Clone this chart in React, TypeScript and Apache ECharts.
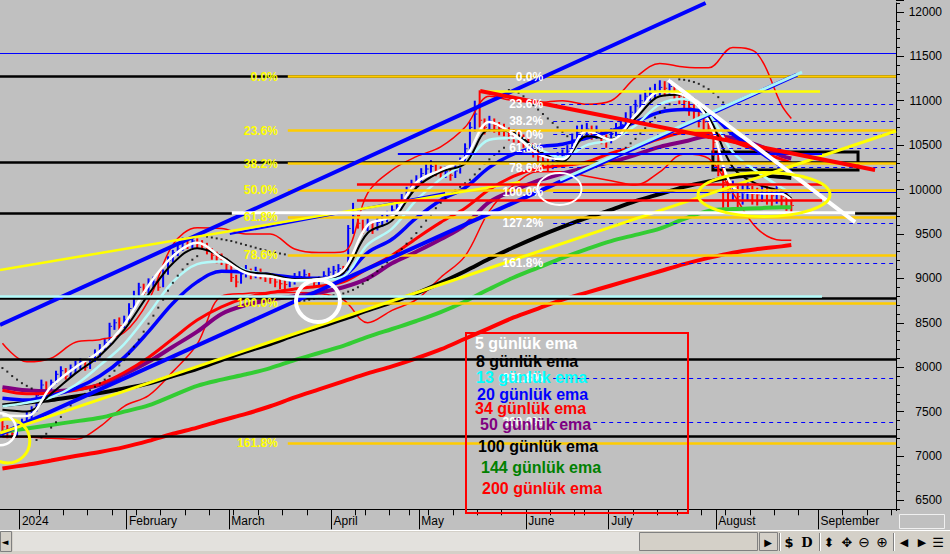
import React, { useEffect, useRef } from 'react';
import * as echarts from 'echarts';

// ---------- axis slots & calendar ----------
const N = 184;
const categories = Array.from({ length: N }, (_, i) => String(i));
const monthTickIdx = [4, 26, 47, 68, 86, 108, 125, 147, 168];
const monthNames = ['2024', 'February', 'March', 'April', 'May', 'June', 'July', 'August', 'September'];
const weekTickIdx = [8, 13, 18, 23, 28, 33, 38, 43, 48, 53, 58, 63, 73, 75, 80, 84, 88, 93, 98, 103, 113, 118, 120, 130, 135, 139, 144, 149, 154, 159, 164, 173, 178, 183];

// ---------- daily bars ----------
const barClose = [7330,7280,7250,7300,7380,7450,7520,7680,7800,7740, 7830,7920,7960,7900,7990,8010,8060,8000,8090,8150, 8210,8280,8460,8500,8470,8530,8660,8800,8900,8840, 8950,8960,8900,9060,9200,9290,9330,9410,9370,9420, 9390,9370,9320,9260,9240,9210,9160,9010,8960,9050, 9090,9040,9080,9060,9020,9000,8960,8940,8930,8970, 9000,9020,9040,8990,8960,8980,9030,9070,9090,9110, 9080,9560,9700,9620,9570,9610,9560,9630,9660,9700, 9770,9810,9900,9970,10060,10100,10180,10230,10260,10210, 10190,10200,10160,10210,10310,10460,10700,10850,10780,10700, 10770,10720,10690,10680,10630,10610,10600,10550,10510,10450, 10370,10320,10290,10310,10350,10380,10430,10560,10640,10660, 10680,10640,10650,10590,10550,10630,10690,10730,10800,10870, 10940,11000,11050,11080,11110,11150,11140,11160,11100,11050, 10990,10920,10880,10800,10760,10690,10530,10320,10080,9960, 10010,9920,9960,10010,9950,9940,9990,9960,9930,9970, 9920,9880,9820];
const barLow = [7220,7200,7180,7220,7290,7360,7420,7500,7690,7700, 7720,7810,7880,7860,7880,7930,7980,7960,7980,8060, 8110,8190,8260,8420,8410,8440,8500,8640,8760,8800, 8830,8880,8860,8900,9040,9180,9250,9310,9330,9340, 9340,9320,9270,9210,9170,9150,9090,8960,8900,8940, 9010,8990,9000,8990,8960,8940,8900,8880,8870,8900, 8930,8960,8980,8940,8900,8910,8950,8990,9020,9030, 9020,9080,9500,9560,9500,9530,9500,9540,9580,9630, 9680,9720,9790,9880,9960,10020,10080,10160,10180,10150, 10120,10130,10100,10130,10180,10280,10440,10650,10700,10620, 10650,10640,10610,10600,10550,10530,10520,10470,10430,10360, 10280,10240,10200,10230,10260,10300,10340,10420,10540,10580, 10600,10560,10570,10510,10470,10520,10600,10650,10710,10780, 10850,10920,10970,11000,11030,11060,11050,11070,11020,10960, 10900,10830,10790,10700,10660,10570,10380,10150,9780,9800, 9870,9800,9830,9880,9830,9820,9860,9830,9800,9840, 9800,9760,9740];
const barHigh = [7400,7350,7320,7340,7420,7500,7560,7720,7860,7840, 7860,7960,8010,7990,8030,8070,8100,8090,8120,8200, 8260,8330,8500,8540,8560,8580,8720,8860,8950,8940, 9000,9020,8990,9100,9250,9320,9380,9460,9450,9470, 9450,9430,9400,9340,9300,9280,9230,9180,9040,9100, 9150,9110,9130,9110,9070,9060,9030,8990,8980,9010, 9060,9080,9100,9060,9010,9020,9080,9120,9140,9160, 9140,9600,9850,9720,9660,9680,9640,9690,9720,9760, 9820,9860,9950,10030,10110,10160,10240,10300,10330,10290, 10260,10260,10230,10270,10360,10520,10760,11000,11117,10800, 10830,10800,10760,10740,10700,10680,10660,10620,10580,10520, 10450,10390,10350,10370,10420,10450,10500,10630,10720,10730, 10750,10720,10720,10660,10620,10690,10750,10800,10870,10940, 11010,11070,11120,11150,11190,11230,11220,11240,11190,11130, 11080,11000,10960,10880,10840,10780,10650,10480,10250,10120, 10100,10060,10050,10090,10040,10020,10060,10040,10010,10050, 10010,9960,9900];

// ---------- indicator lines (read at these bar indexes) ----------
const sampleIdx = [0,5,10,15,20,25,30,35,40,45,50,55,60,65,70,75,80,85,90,95,100,105,110,115,120,125,130,135,140,145,150,155,160,162];
const ema5 = [7460,7450,7780,8000,8180,8480,8920,9250,9400,9230,9060,9020,8980,8990,9090,9600,9700,10080,10220,10360,10760,10620,10400,10340,10660,10560,10840,11100,11060,10780,10030,9960,9950,9880];
const ema8 = [7520,7500,7700,7930,8130,8420,8820,9170,9340,9250,9080,9050,8990,9000,9060,9510,9650,10020,10200,10290,10670,10640,10440,10320,10600,10570,10800,11050,11070,10820,10250,10060,9980,9900];
const ema13 = [7560,7600,7660,7800,8020,8260,8600,8960,9160,9190,9090,9040,8970,8980,9020,9380,9560,9880,10120,10300,10560,10580,10460,10360,10500,10560,10720,10960,11020,10850,10420,10200,10020,9960];
const ema20 = [7650,7630,7680,7760,7900,8110,8400,8720,8960,9080,9070,9040,9010,9000,9030,9290,9440,9680,9880,10020,10250,10400,10480,10510,10580,10660,10760,10870,10900,10860,10620,10440,10260,10200];
const ema34 = [7740,7700,7710,7740,7810,7940,8110,8320,8530,8680,8780,8840,8880,8910,8960,9110,9260,9450,9630,9790,10000,10150,10240,10270,10310,10410,10480,10570,10640,10640,10540,10440,10340,10300];
const ema50 = [7775,7740,7730,7750,7800,7920,8060,8230,8400,8600,8700,8760,8800,8840,8900,9000,9170,9300,9440,9600,9860,9990,10100,10180,10250,10310,10390,10480,10540,10600,10580,10500,10380,10350];
const ema100 = [7570,7600,7630,7670,7710,7760,7815,7900,7980,8080,8175,8260,8360,8450,8540,8640,8730,8830,8950,9080,9220,9350,9470,9580,9680,9770,9870,9950,10030,10090,10140,10160,10140,10130];
const ema144 = [7270,7310,7350,7390,7430,7500,7570,7680,7790,7860,7920,7990,8080,8160,8240,8340,8430,8520,8620,8740,8880,9010,9120,9230,9330,9420,9490,9560,9670,9760,9780,9790,9800,9800];
const ema200 = [6860,6900,6950,7000,7045,7100,7170,7250,7320,7400,7475,7560,7660,7750,7840,7930,8010,8100,8200,8320,8440,8560,8660,8760,8840,8920,9000,9080,9160,9230,9290,9330,9360,9375];
const bandUpper = [8270,8060,8100,8280,8310,8390,8750,9380,9570,9560,9500,9500,9330,9290,9300,9960,10220,10370,10480,10700,11050,11000,10980,11000,10960,11000,11260,11420,11380,11370,11600,11530,10950,10800];
const bandLower = [7215,7215,7200,7190,7330,7560,7680,7950,8260,8800,8830,8840,8840,8830,8760,8500,8640,8760,9010,9250,9760,10050,10200,10200,10150,10100,10050,10200,10400,10350,9960,9560,9430,9430];

// parabolic SAR dots: [first bar index, values...]
const sarSegments: [number, number[]][] = [
  [0, [7990,7950,7900,7860,7820,7790,7760]],
  [7, [7180,7210,7250,7320,7380,7440,7510,7570,7620,7660,7700,7740,7780,7820,7860,7900,7960,8020,8080,8150,8230,8310,8400,8490,8580,8670,8760,8860,8950,9030,9100,9160,9210,9250]],
  [42, [9470,9460,9450,9440,9430,9420,9405,9390,9375,9360,9345,9330,9315,9300,9290,9280,9270]],
  [61, [8740,8750,8760,8770,8780,8790,8800,8810,8820,8830,8850,8870,8900,8940,8980,9030,9080,9130,9180,9230,9280,9330,9390,9450,9510,9580,9650,9720,9790,9850,9900,9950,9990,10030,10070,10110,10170,10230,10290,10340,10390,10430,10470]],
  [104, [11120,11110,11090,11050,11000,10950,10900,10850,10800,10750,10700,10650,10600]],
  [118, [10200,10220,10240,10260,10280,10300,10330,10360,10390,10430,10470,10520,10570,10630,10690,10750,10810,10870,10920,10960]],
  [139, [11240,11235,11225,11210,11190,11160,11130,11090,11040,10980]],
];

// ---------- drawn levels & trendlines (bar index, price) ----------
const blackLevels = [11270, 10304, 9736, 8773, 8086, 7219];
const blueTopLevel = 11537;
const fib1Levels = [11270, 10664, 10293, 9993, 9692, 9265, 8720, 7147];
const fib1Labels = ['0.0%', '23.6%', '38.2%', '50.0%', '61.8%', '78.6%', '100.0%', '161.8%'];
const fib2Levels = [11270, 10959, 10770, 10618, 10465, 10247, 9970, 9618, 9170, 7875, 7380];
const fib2Labels = ['0.0%', '23.6%', '38.2%', '50.0%', '61.8%', '78.6%', '100.0%', '127.2%', '161.8%', '261.8%', '300.0%'];
const fib1Start = 58.6;
const fib2Start = 113.1;
const cyanLevel = [8795, -0.5, 168.3];
const redLevels = [10056, 9882];
const redLevelSpan = [72.8, 168.3];
const blueMidLevel = [10400, 81.2, 168.3];
const yellowTopLevel = [11109, 98.1, 167.9];
const whiteLevel = [9736, 47.1, 175.1];
const blueChannelTop = [[-0.5, 8475], [144.4, 12100]];
const blueChannelBottom = [[-0.5, 7242], [163.2, 11293]];
const cyanTrend = [[114.5, 10107], [164.2, 11323]];
const blueShortTrend = [[46.7, 9499], [90.9, 9961]];
const yellowTrendA = [[-0.5, 9094], [106.3, 10085]];
const yellowTrendB = [[-0.5, 7259], [183.5, 10659]];
const redTrend = [[98.1, 11109], [179.2, 10220]];
const whiteTrend = [[136.7, 11233], [175.1, 9634]];
const boxArea = [[145.9, 10422], [175.7, 10220]];

const legendNames = ['5 günlük ema', '8 günlük ema', '13 günlük ema', '20 günlük ema', '34 günlük ema', '50 günlük ema', '100 günlük ema', '144 günlük ema', '200 günlük ema'];

// ---------- styling ----------
const FONT = 'Liberation Sans, Arial, sans-serif';
const legendColors = ['#ffffff', '#000000', '#00ffff', '#0000ff', '#ff0000', '#800080', '#000000', '#008000', '#ff0000'];
const legendPos = [[475, 343], [476, 361], [476, 377], [477, 394], [475, 408], [480, 424], [478, 446], [481, 467], [482, 488]];

const emaDefs = [
  { name: '200 günlük ema', data: ema200, color: '#ff0000', width: 4 },
  { name: '144 günlük ema', data: ema144, color: '#33cc33', width: 4 },
  { name: '100 günlük ema', data: ema100, color: '#000000', width: 4 },
  { name: '50 günlük ema', data: ema50, color: '#800080', width: 4 },
  { name: '34 günlük ema', data: ema34, color: '#ff0000', width: 3 },
  { name: '20 günlük ema', data: ema20, color: '#0000ff', width: 3.5 },
  { name: '13 günlük ema', data: ema13, color: '#b4fafa', width: 2.5 },
  { name: '8 günlük ema', data: ema8, color: '#000000', width: 2 },
  { name: '5 günlük ema', data: ema5, color: '#ffffff', width: 2.5 },
];

function seg(a: number[][], color: string, width: number, type: any = 'solid') {
  return [
    { coord: a[0], lineStyle: { color, width, type }, label: { show: false } },
    { coord: a[1] },
  ];
}
function hseg(v: number, from: number, to: number, color: string, width: number, type: any = 'solid', text?: string, textColor?: string) {
  return [
    {
      coord: [from, v],
      lineStyle: { color, width, type },
      label: text
        ? { show: true, position: 'start', distance: 10, formatter: text, color: textColor, fontWeight: 'bold', fontSize: 12, fontFamily: FONT }
        : { show: false },
    },
    { coord: [to, v] },
  ];
}

// pixel scale of the price axis: 12100 at y=3, 6400 at y=509.3
const PX_PER_UNIT = 506.3 / 5700;
const LABEL_AXIS_MAX = 12100 + 3 / PX_PER_UNIT;

function buildOption() {
  const weekSet = new Set(weekTickIdx);
  const monthSet = new Set(monthTickIdx);
  const monthMap = new Map(monthTickIdx.map((k, j) => [k, monthNames[j]]));

  const barData = barClose.map((c, i) => [i, barLow[i], barHigh[i], i > 0 && c >= barClose[i - 1] ? 1 : 0, c]);

  const sarData: number[][] = [];
  sarSegments.forEach(([start, vals]) => vals.forEach((v, k) => sarData.push([start + k, v])));

  const levelLines: any[] = [];
  blackLevels.forEach((v) => levelLines.push(hseg(v, -0.5, N - 0.5, '#000000', 2.5)));
  levelLines.push(hseg(blueTopLevel, -0.5, N - 0.5, '#0000ff', 1));
  fib2Levels.forEach((v, k) => {
    const solid = k === 0 || k === 6;
    levelLines.push(hseg(v, fib2Start, N - 0.5, '#0000ff', solid ? 1.2 : 1, solid ? 'solid' : [4, 4], fib2Labels[k], '#ffffff'));
  });
  fib1Levels.forEach((v, k) => levelLines.push(hseg(v, fib1Start, N - 0.5, '#ffcc00', 2.5, 'solid', fib1Labels[k], '#ffff00')));

  const trendLines: any[] = [
    seg(blueChannelTop, '#0000ff', 4),
    seg(blueChannelBottom, '#0000ff', 4),
    seg(cyanTrend, '#a8f4f4', 3),
    seg(blueShortTrend, '#0000ff', 2),
    seg(yellowTrendA, '#ffff00', 2.5),
    seg(yellowTrendB, '#ffff00', 3),
    hseg(cyanLevel[0], cyanLevel[1], cyanLevel[2], '#b4fafa', 2.5),
    hseg(redLevels[0], redLevelSpan[0], redLevelSpan[1], '#ff0000', 2.5),
    hseg(redLevels[1], redLevelSpan[0], redLevelSpan[1], '#ff0000', 2.5),
    hseg(blueMidLevel[0], blueMidLevel[1], blueMidLevel[2], '#0000ff', 2),
    hseg(yellowTopLevel[0], yellowTopLevel[1], yellowTopLevel[2], '#ffff00', 2.5),
    seg(redTrend, '#ff0000', 4),
    hseg(whiteLevel[0], whiteLevel[1], whiteLevel[2], '#ffffff', 3.5),
    seg(whiteTrend, '#ffffff', 4),
  ];

  const series: any[] = [
    {
      type: 'line', name: 'levels', xAxisIndex: 2, yAxisIndex: 0, data: [[-0.5, 6400]], symbol: 'none',
      lineStyle: { opacity: 0 }, silent: true, z: 1,
      markLine: { silent: true, symbol: ['none', 'none'], animation: false, label: { show: false }, emphasis: { disabled: true }, data: levelLines },
    },
    {
      type: 'custom', name: 'bars', xAxisIndex: 2, yAxisIndex: 0, data: barData, z: 2, silent: true,
      encode: { x: 0, y: [1, 2] },
      renderItem: (params: any, api: any) => {
        const i = api.value(0);
        const top = api.coord([i, api.value(2)]);
        const bot = api.coord([i, api.value(1)]);
        const cl = api.coord([i, api.value(4)]);
        const fill = api.value(3) ? '#0000ff' : '#ff0000';
        return {
          type: 'group',
          children: [
            { type: 'rect', shape: { x: top[0] - 1, y: top[1], width: 2, height: Math.max(1, bot[1] - top[1]) }, style: { fill } },
            { type: 'rect', shape: { x: top[0] + 1, y: cl[1] - 0.5, width: 1.5, height: 1 }, style: { fill } },
          ],
        };
      },
    },
    ...[
      { name: 'band upper', data: bandUpper },
      { name: 'band lower', data: bandLower },
    ].map((b) => ({
      type: 'line', name: b.name, xAxisIndex: 2, yAxisIndex: 0, symbol: 'none', smooth: 0.35, silent: true, z: 3,
      data: sampleIdx.map((x, k) => [x, b.data[k]]), lineStyle: { color: '#ff0000', width: 1.5 },
    })),
    ...emaDefs.map((d) => ({
      type: 'line', name: d.name, xAxisIndex: 2, yAxisIndex: 0, symbol: 'none', smooth: 0.35, silent: true, z: 3,
      data: sampleIdx.map((x, k) => [x, d.data[k]]), lineStyle: { color: d.color, width: d.width },
    })),
    {
      type: 'scatter', name: 'sar', xAxisIndex: 2, yAxisIndex: 0, data: sarData, symbol: 'rect', symbolSize: 2,
      itemStyle: { color: '#000000' }, silent: true, z: 4,
    },
    {
      type: 'line', name: 'trends', xAxisIndex: 2, yAxisIndex: 0, data: [[-0.5, 6400]], symbol: 'none',
      lineStyle: { opacity: 0 }, silent: true, z: 5,
      markLine: { silent: true, symbol: ['none', 'none'], animation: false, label: { show: false }, emphasis: { disabled: true }, data: trendLines },
      markArea: {
        silent: true,
        itemStyle: { color: 'rgba(0,0,0,0)', borderColor: '#000000', borderWidth: 3 },
        data: [[{ coord: boxArea[0] }, { coord: boxArea[1] }]],
      },
    },
  ];

  return {
    animation: false,
    backgroundColor: '#c0c0c0',
    grid: [
      { left: 0, right: 54, top: 3, bottom: 44.7 },
      { left: 0, right: 54, top: 0, bottom: 9.17 },
    ],
    xAxis: [
      {
        type: 'category', gridIndex: 0, data: categories, boundaryGap: true, position: 'bottom',
        axisLine: { show: true, onZero: false, lineStyle: { color: '#000000', width: 1 } },
        axisTick: { show: true, length: 6, interval: (idx: number) => weekSet.has(idx), lineStyle: { color: '#000000' } },
        axisLabel: { show: false }, splitLine: { show: false },
      },
      {
        type: 'category', gridIndex: 0, data: categories, boundaryGap: true, position: 'bottom',
        axisLine: { show: false, onZero: false },
        axisTick: { show: true, length: 20, interval: (idx: number) => monthSet.has(idx), lineStyle: { color: '#000000' } },
        axisLabel: {
          show: true, interval: (idx: number) => monthSet.has(idx),
          formatter: (val: string) => monthMap.get(Number(val)) || '',
          align: 'left', margin: 6, color: '#000000', fontSize: 12, fontFamily: FONT,
        },
        splitLine: { show: false },
      },
      { type: 'value', gridIndex: 0, min: -0.5, max: N - 0.5, show: false, axisLine: { onZero: false } },
      { type: 'value', gridIndex: 1, min: 0, max: 1, show: false, axisLine: { onZero: false } },
    ],
    yAxis: [
      {
        type: 'value', gridIndex: 0, position: 'right', min: 6400, max: 12100, interval: 100,
        axisLine: { show: true, onZero: false, lineStyle: { color: '#000000', width: 1 } },
        axisTick: { show: true, length: 4, lineStyle: { color: '#000000' } },
        axisLabel: { show: false }, splitLine: { show: false },
      },
      {
        type: 'value', gridIndex: 1, position: 'right', min: 6000, max: LABEL_AXIS_MAX, interval: 500,
        axisLine: { show: false, onZero: false },
        axisTick: { show: true, length: 8, lineStyle: { color: '#000000' } },
        axisLabel: {
          show: true, align: 'right', margin: 46, color: '#000000', fontSize: 12, fontFamily: FONT,
          formatter: (v: number) => (v >= 6500 && v <= 12000 && v % 500 === 0 ? String(v) : ''),
        },
        splitLine: { show: false },
      },
    ],
    series,
  };
}

const annotations = [
  { at: [64.8, 8745], rx: 22, ry: 21, color: '#ffffff', width: 4 },
  { at: [114.4, 10006], rx: 22, ry: 16, color: '#ffffff', width: 2 },
  { at: [156.4, 9944], rx: 66, ry: 22, color: '#ffff00', width: 3 },
  { at: [1.1, 7169], rx: 22, ry: 22, color: '#ffff00', width: 3 },
  { at: [-0.5, 7300], rx: 16, ry: 16, color: '#ffffff', width: 2.5 },
];

function buildGraphic(px: (i: number, v: number) => number[]) {
  const g: any[] = [];
  annotations.forEach((a) => {
    const p = px(a.at[0], a.at[1]);
    g.push({ type: 'ellipse', shape: { cx: p[0], cy: p[1], rx: a.rx, ry: a.ry }, style: { fill: 'none', stroke: a.color, lineWidth: a.width }, z: 60, silent: true });
  });
  // legend box
  g.push({ type: 'rect', shape: { x: 466, y: 333, width: 222, height: 180 }, style: { fill: 'none', stroke: '#ff0000', lineWidth: 2 }, z: 70, silent: true });
  legendNames.forEach((t, k) => {
    g.push({
      type: 'text', x: legendPos[k][0], y: legendPos[k][1], z: 71, silent: true,
      style: { text: t, fill: legendColors[k], font: `bold 16px ${FONT}`, align: 'left', verticalAlign: 'middle', textAlign: 'left', textVerticalAlign: 'middle' },
    });
  });
  // bottom scroll / tool bar
  g.push({ type: 'rect', shape: { x: 0, y: 530, width: 950, height: 24 }, style: { fill: '#d4d0c8' }, z: 100, silent: true });
  g.push({ type: 'line', shape: { x1: 0, y1: 530.5, x2: 950, y2: 530.5 }, style: { stroke: '#ffffff', lineWidth: 1 }, z: 101, silent: true });
  g.push({ type: 'rect', shape: { x: 13, y: 532, width: 626, height: 19 }, style: { fill: '#e3e1dd' }, z: 101, silent: true });
  g.push({ type: 'rect', shape: { x: 0.5, y: 531.5, width: 11, height: 20 }, style: { fill: '#d4d0c8', stroke: '#808080', lineWidth: 1 }, z: 102, silent: true });
  g.push({ type: 'rect', shape: { x: 639.5, y: 532.5, width: 118, height: 18 }, style: { fill: '#d4d0c8', stroke: '#808080', lineWidth: 1 }, z: 102, silent: true });
  g.push({ type: 'rect', shape: { x: 759.5, y: 532.5, width: 18, height: 18 }, style: { fill: '#d4d0c8', stroke: '#808080', lineWidth: 1 }, z: 102, silent: true });
  [779.5, 819.5, 893.5].forEach((x) => {
    g.push({ type: 'line', shape: { x1: x, y1: 533, x2: x, y2: 551 }, style: { stroke: '#808080', lineWidth: 1 }, z: 102, silent: true });
    g.push({ type: 'line', shape: { x1: x + 1, y1: 533, x2: x + 1, y2: 551 }, style: { stroke: '#ffffff', lineWidth: 1 }, z: 102, silent: true });
  });
  const icons: [string, number, string][] = [
    ['◄', 5, '9px DejaVu Sans'], ['▶', 768, '10px DejaVu Sans'], ['$', 789, 'bold 13px DejaVu Sans'], ['D', 807, 'bold 13px DejaVu Serif'],
    ['⬍', 829, '13px DejaVu Sans'], ['✥', 847, '13px DejaVu Sans'], ['⊖', 864, '14px DejaVu Sans'], ['⊕', 882, '14px DejaVu Sans'],
    ['◀', 904, '11px DejaVu Sans'], ['▶', 922, '11px DejaVu Sans'], ['☰', 938, '13px DejaVu Sans'],
  ];
  icons.forEach(([t, x, f]) => {
    g.push({ type: 'text', x, y: 542, z: 103, silent: true, style: { text: t, fill: '#000000', font: f, align: 'center', verticalAlign: 'middle', textAlign: 'center', textVerticalAlign: 'middle' } });
  });
  // small input box right of the date axis
  g.push({ type: 'rect', shape: { x: 894, y: 511, width: 6, height: 19 }, style: { fill: '#c0c0c0' }, z: 100, silent: true });
  g.push({ type: 'rect', shape: { x: 899.5, y: 514.5, width: 45, height: 14 }, style: { fill: '#c0c0c0', stroke: '#f0f0f0', lineWidth: 1 }, z: 101, silent: true });
  return g;
}

export default function App() {
  const ref = useRef<HTMLDivElement>(null);
  useEffect(() => {
    const el = ref.current;
    if (!el) return;
    const chart = echarts.init(el, null, { renderer: 'svg' });
    chart.setOption(buildOption() as any);
    const px = (i: number, v: number) => chart.convertToPixel({ xAxisIndex: 2, yAxisIndex: 0 } as any, [i, v]) as unknown as number[];
    chart.setOption({ graphic: buildGraphic(px) } as any);
    return () => chart.dispose();
  }, []);
  return <div ref={ref} style={{ position: 'fixed', left: 0, top: 0, width: 950, height: 554, background: '#c0c0c0' }} />;
}
